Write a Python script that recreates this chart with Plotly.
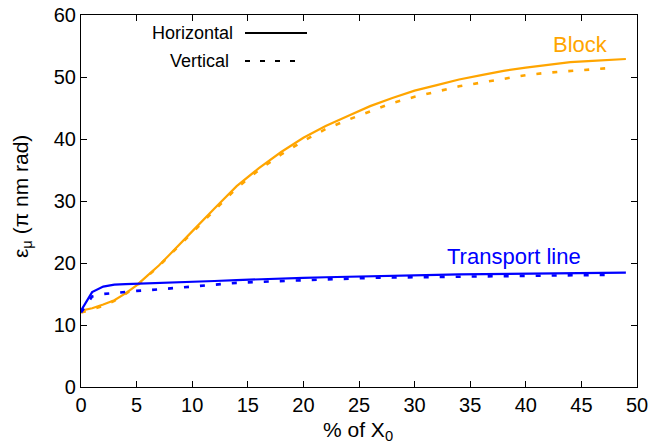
import plotly.graph_objects as go

# ---- data ----
x_block_h = [0, 1, 2, 3, 4, 5, 6, 7, 8, 9, 10, 12, 14, 16, 18, 20, 22, 24, 26, 28, 30, 32, 34, 36, 38, 40, 42, 44, 46, 48, 49]
block_h = [12.3, 12.7, 13.3, 14.0, 15.1, 16.4, 18.0, 19.6, 21.4, 23.2, 25.1, 28.8, 32.4, 35.3, 37.9, 40.2, 42.1, 43.7, 45.3, 46.6, 47.8, 48.7, 49.6, 50.3, 51.0, 51.5, 52.0, 52.4, 52.6, 52.8, 52.9]

x_block_v = [0, 1, 2, 3, 4, 5, 6, 7, 8, 9, 10, 12, 14, 16, 18, 20, 22, 24, 26, 28, 30, 32, 34, 36, 38, 40, 42, 44, 46, 48]
block_v = [12.0, 12.5, 13.1, 13.9, 15.0, 16.3, 17.9, 19.5, 21.3, 23.1, 24.9, 28.6, 32.1, 35.0, 37.5, 39.7, 41.6, 43.1, 44.5, 45.8, 46.8, 47.7, 48.5, 49.1, 49.7, 50.3, 50.7, 51.0, 51.3, 51.5]

x_trans_h = [0, 1, 2, 3, 4, 5, 6, 8, 10, 12, 14, 16, 18, 20, 22, 24, 26, 28, 30, 32, 34, 36, 38, 40, 42, 44, 46, 48, 49]
trans_h = [12.3, 15.3, 16.2, 16.5, 16.6, 16.65, 16.7, 16.85, 17.0, 17.1, 17.25, 17.4, 17.5, 17.6, 17.7, 17.8, 17.9, 18.0, 18.05, 18.1, 18.15, 18.2, 18.2, 18.25, 18.3, 18.35, 18.4, 18.4, 18.45]

x_trans_v = [0, 1, 2, 3, 4, 5, 6, 8, 10, 12, 14, 16, 18, 20, 22, 24, 26, 28, 30, 32, 34, 36, 38, 40, 42, 44, 46, 48]
trans_v = [12.0, 14.6, 15.0, 15.2, 15.35, 15.5, 15.6, 15.9, 16.3, 16.6, 16.8, 16.95, 17.1, 17.25, 17.35, 17.5, 17.6, 17.65, 17.7, 17.75, 17.8, 17.85, 17.9, 17.95, 18.0, 18.05, 18.1, 18.1]

x_ticks = [0, 5, 10, 15, 20, 25, 30, 35, 40, 45, 50]
y_ticks = [0, 10, 20, 30, 40, 50, 60]

ORANGE = "#FFA500"
BLUE = "#0000FF"
FONT = "Liberation Sans, Arial, sans-serif"

L, R, T, B = 81, 12, 15, 59
W, H = 649, 446
PW, PH = W - L - R, H - T - B


def px(xp):
    return (xp - L) / PW


def py(yp):
    return (H - B - yp) / PH


fig = go.Figure()
fig.add_trace(go.Scatter(x=x_block_h, y=block_h, mode="lines",
                         line=dict(color=ORANGE, width=2.2), showlegend=False))
fig.add_trace(go.Scatter(x=x_block_v, y=block_v, mode="lines",
                         line=dict(color=ORANGE, width=2.6, dash="5px,11px"), showlegend=False))
fig.add_trace(go.Scatter(x=x_trans_h, y=trans_h, mode="lines",
                         line=dict(color=BLUE, width=2.2), showlegend=False))
fig.add_trace(go.Scatter(x=x_trans_v, y=trans_v, mode="lines",
                         line=dict(color=BLUE, width=2.6, dash="5px,11px"), showlegend=False))

axis_common = dict(showgrid=False, zeroline=False, showline=True, linecolor="black",
                   linewidth=1.2, mirror="allticks", ticks="inside", ticklen=6,
                   tickcolor="black", automargin=False,
                   tickfont=dict(family=FONT, size=20, color="black"))

fig.update_xaxes(range=[0, 50], tickvals=x_ticks, **axis_common)
fig.update_yaxes(range=[0, 60], tickvals=y_ticks, **axis_common)

# axis titles
fig.add_annotation(xref="paper", yref="paper", x=px(358), y=py(431),
                   text="% of X<sub>0</sub>", showarrow=False, xanchor="center", yanchor="middle",
                   font=dict(family=FONT, size=21, color="black"))
fig.add_annotation(xref="paper", yref="paper", x=px(22), y=py(197), textangle=-90,
                   text="ε<sub>μ</sub> (π nm rad)", showarrow=False, xanchor="center", yanchor="middle",
                   font=dict(family=FONT, size=21, color="black"))

# curve labels
fig.add_annotation(x=47.6, y=55.3, text="Block", showarrow=False, xanchor="right", yanchor="middle",
                   font=dict(family=FONT, size=22, color=ORANGE))
fig.add_annotation(x=45.1, y=21.1, text="Transport line", showarrow=False, xanchor="right", yanchor="middle",
                   font=dict(family=FONT, size=22, color=BLUE))

# key (gnuplot-style: text left of sample)
fig.add_annotation(xref="paper", yref="paper", x=px(235), y=py(33),
                   text="Horizontal", showarrow=False, xanchor="right", yanchor="middle",
                   font=dict(family=FONT, size=18, color="black"))
fig.add_annotation(xref="paper", yref="paper", x=px(231), y=py(61),
                   text="Vertical", showarrow=False, xanchor="right", yanchor="middle",
                   font=dict(family=FONT, size=18, color="black"))
fig.add_shape(type="line", xref="paper", yref="paper",
              x0=px(245), x1=px(307), y0=py(33), y1=py(33),
              line=dict(color="black", width=2.2))
fig.add_shape(type="line", xref="paper", yref="paper",
              x0=px(245), x1=px(302), y0=py(61), y1=py(61),
              line=dict(color="black", width=2.2, dash="5px,10px"))

fig.update_layout(width=W, height=H, margin=dict(l=L, r=R, t=T, b=B),
                  paper_bgcolor="white", plot_bgcolor="white", showlegend=False)

fig.write_html("out.html", config={"displayModeBar": False},
               post_script="document.body.style.margin='0';document.body.style.overflow='hidden';")
